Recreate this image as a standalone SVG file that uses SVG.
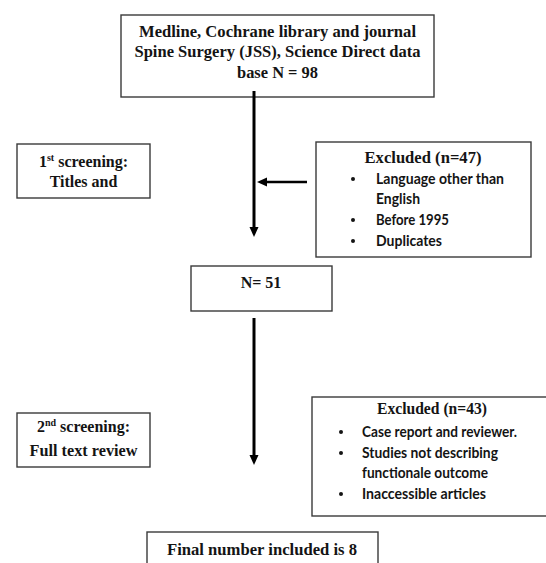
<svg xmlns="http://www.w3.org/2000/svg" width="546" height="563" viewBox="0 0 546 563">
  <style>
    .box { fill: #ffffff; stroke: #3a3a3a; stroke-width: 1.4; }
    .h { font-family: "Liberation Serif", "Times New Roman", serif; font-weight: bold; font-size: 16px; fill: #141414; text-anchor: middle; }
    .b { font-family: "Lato", "Liberation Sans", sans-serif; font-weight: bold; font-size: 15px; fill: #141414; }
    .dot { fill: #141414; }
    .conn { stroke: #000000; fill: none; }
  </style>
  <defs>
    <marker id="ah" markerUnits="userSpaceOnUse" markerWidth="10" markerHeight="10" refX="4" refY="4.5" orient="auto">
      <path d="M0,0 L10,4.5 L0,9 z" fill="#000000"/>
    </marker>
  </defs>
  <rect x="0" y="0" width="546" height="563" fill="#ffffff"/>

  <g id="node-sources">
    <rect class="box" x="121" y="15" width="313" height="82"/>
    <text class="h" x="277.5" y="37" textLength="277" lengthAdjust="spacingAndGlyphs">Medline, Cochrane library and journal</text>
    <text class="h" x="277.5" y="57" textLength="286" lengthAdjust="spacingAndGlyphs">Spine Surgery (JSS), Science Direct data</text>
    <text class="h" x="277.5" y="78" textLength="81" lengthAdjust="spacingAndGlyphs">base N = 98</text>
  </g>

  <g id="node-screen1">
    <rect class="box" x="17" y="144" width="133" height="54"/>
    <text class="h" x="83.5" y="167">1<tspan font-size="10" dy="-6">st</tspan><tspan dy="6"> screening:</tspan></text>
    <text class="h" x="83.5" y="187">Titles and</text>
  </g>

  <g id="node-excluded47">
    <rect class="box" x="316" y="142" width="215" height="115"/>
    <text class="h" x="423" y="163" textLength="117" lengthAdjust="spacingAndGlyphs">Excluded (n=47)</text>
    <circle class="dot" cx="353" cy="179" r="2"/>
    <text class="b" x="376" y="184" textLength="128" lengthAdjust="spacingAndGlyphs">Language other than</text>
    <text class="b" x="376" y="204" textLength="44" lengthAdjust="spacingAndGlyphs">English</text>
    <circle class="dot" cx="353" cy="220" r="2"/>
    <text class="b" x="376" y="225" textLength="73" lengthAdjust="spacingAndGlyphs">Before 1995</text>
    <circle class="dot" cx="353" cy="241" r="2"/>
    <text class="b" x="376" y="246" textLength="66" lengthAdjust="spacingAndGlyphs">Duplicates</text>
  </g>

  <g id="node-n51">
    <rect class="box" x="191" y="266" width="141" height="45"/>
    <text class="h" x="261" y="288">N= 51</text>
  </g>

  <g id="node-screen2">
    <rect class="box" x="17" y="413" width="133" height="54"/>
    <text class="h" x="83.5" y="432">2<tspan font-size="10" dy="-6">nd</tspan><tspan dy="6"> screening:</tspan></text>
    <text class="h" x="83.5" y="456" textLength="108" lengthAdjust="spacingAndGlyphs">Full text review</text>
  </g>

  <g id="node-excluded43">
    <rect class="box" x="312" y="397" width="236" height="119"/>
    <text class="h" x="432" y="414" textLength="110" lengthAdjust="spacingAndGlyphs">Excluded (n=43)</text>
    <circle class="dot" cx="341" cy="432" r="2"/>
    <text class="b" x="362" y="437" textLength="155" lengthAdjust="spacingAndGlyphs">Case report and reviewer.</text>
    <circle class="dot" cx="341" cy="453" r="2"/>
    <text class="b" x="362" y="458" textLength="136" lengthAdjust="spacingAndGlyphs">Studies not describing</text>
    <text class="b" x="362" y="478" textLength="126" lengthAdjust="spacingAndGlyphs">functionale outcome</text>
    <circle class="dot" cx="341" cy="494" r="2"/>
    <text class="b" x="362" y="499" textLength="124" lengthAdjust="spacingAndGlyphs">Inaccessible articles</text>
  </g>

  <g id="node-final">
    <rect class="box" x="147" y="532" width="231" height="40"/>
    <text class="h" x="262" y="555" textLength="190" lengthAdjust="spacingAndGlyphs">Final number included is 8</text>
  </g>

  <g id="connectors">
    <line class="conn" x1="254" y1="91" x2="254" y2="231" stroke-width="3" marker-end="url(#ah)"/>
    <line class="conn" x1="307" y1="182" x2="263" y2="182" stroke-width="2.6" marker-end="url(#ah)"/>
    <line class="conn" x1="254" y1="318" x2="254" y2="459" stroke-width="3" marker-end="url(#ah)"/>
  </g>
</svg>
